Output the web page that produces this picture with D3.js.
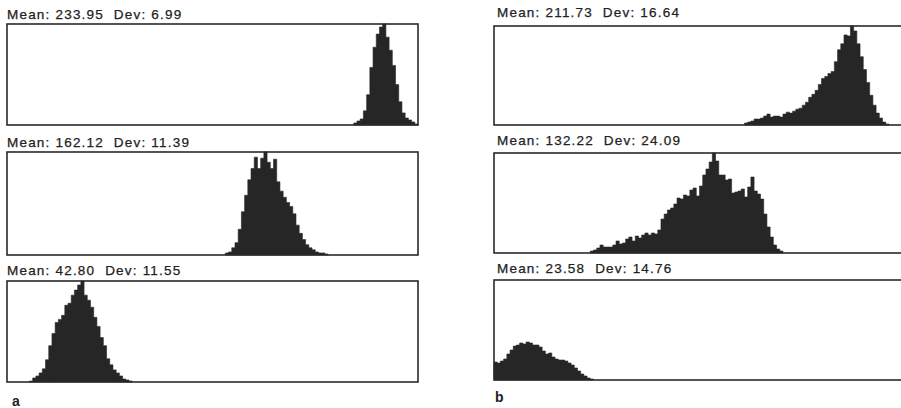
<!DOCTYPE html>
<html>
<head>
<meta charset="utf-8">
<script src="https://cdn.jsdelivr.net/npm/d3@7"></script>
<style>
  html, body { margin: 0; padding: 0; background: #fff; }
  svg { display: block; }
</style>
</head>
<body>
<svg id="chart" width="901" height="408"></svg>
<script>
// ---- data (gray level histograms, bins of 2 levels, relative counts in % of panel maximum) ----
const panelIds = ["a1", "a2", "a3", "b1", "b2", "b3"];
const means = ["233.95", "162.12", "42.80", "211.73", "132.22", "23.58"];
const devs  = ["6.99", "11.39", "11.55", "16.64", "24.09", "14.76"];
const binStarts = [216, 136, 14, 156, 60, 0];

const countsA1 = [2,4,6,14,30,57,77,90,97,100,87,74,59,40,23,12,7,5,3,1];
const countsA2 = [2,3,7,12,25,42,58,73,84,95,84,94,100,90,84,93,71,62,56,51,47,40,29,21,15,10,7,5,3,2,2,1];
const countsA3 = [1,4,6,9,13,22,36,48,59,62,66,76,78,86,91,96,100,86,81,74,64,55,44,36,23,17,12,9,6,3,2,1];
const countsB1 = [2,3,4,6,6,7,9,11,8,9,9,8,11,13,12,14,16,17,20,23,28,31,35,41,47,49,52,54,64,76,82,91,90,100,95,82,69,56,43,30,20,12,7,3,1];
const countsB2 = [2,3,5,8,6,6,6,8,12,9,10,14,16,12,17,15,18,20,18,20,19,23,34,39,43,45,49,55,54,58,57,63,65,57,67,78,84,91,100,92,78,78,73,74,60,61,62,64,56,66,76,62,59,54,39,26,16,8,4,2];
const countsB3 = [18,17,19,21,26,30,34,35,37,36,38,37,35,35,33,29,26,27,23,21,20,20,19,17,15,12,9,6,4,2,1];
const allCounts = [countsA1, countsA2, countsA3, countsB1, countsB2, countsB3];

const binWidth = 2;
const grayDomain = [0, 256];
const countDomain = [0, 100];
const figureLabels = ["a", "b"];

// ---- layout ----
const boxes = [
  {x0: 7,   x1: 418, y0: 24,  y1: 125, tx: 7,   ty: 19},
  {x0: 7,   x1: 418, y0: 152, y1: 255, tx: 7,   ty: 147},
  {x0: 7,   x1: 418, y0: 281, y1: 382, tx: 7,   ty: 275},
  {x0: 494, x1: 905, y0: 26,  y1: 125, tx: 497, ty: 17},
  {x0: 494, x1: 905, y0: 153, y1: 253, tx: 497, ty: 145},
  {x0: 494, x1: 905, y0: 280, y1: 380, tx: 497, ty: 273}
];

const svg = d3.select("#chart");
svg.append("rect").attr("width", 901).attr("height", 408).attr("fill", "#fff");

panelIds.forEach((id, i) => {
  const b = boxes[i];
  const x = d3.scaleLinear().domain(grayDomain).range([b.x0, b.x1]);
  const y = d3.scaleLinear().domain(countDomain).range([b.y1, b.y0]);
  const start = binStarts[i];
  const pts = allCounts[i].map((v, k) => ({g: start + k * binWidth, v}));
  pts.push({g: start + allCounts[i].length * binWidth, v: 0});
  const g = svg.append("g").attr("id", "panel-" + id);

  const area = d3.area()
    .x(d => x(d.g))
    .y0(y(0))
    .y1(d => y(d.v))
    .curve(d3.curveStepAfter);

  g.append("path")
    .datum(pts)
    .attr("d", area)
    .attr("fill", "#262626")
    .attr("stroke", "#262626")
    .attr("stroke-width", 0.6);

  g.append("rect")
    .attr("x", b.x0).attr("y", b.y0)
    .attr("width", b.x1 - b.x0).attr("height", b.y1 - b.y0)
    .attr("fill", "none")
    .attr("stroke", "#2a2a2a")
    .attr("stroke-width", 1.6);

  g.append("text")
    .attr("x", b.tx).attr("y", b.ty)
    .style("white-space", "pre")
    .attr("font-family", "'Liberation Sans', Arial, Helvetica, sans-serif")
    .attr("font-size", 13.5)
    .attr("letter-spacing", 1.2)
    .attr("fill", "#222")
    .attr("stroke", "#222")
    .attr("stroke-width", 0.25)
    .text(`Mean: ${means[i]}  Dev: ${devs[i]}`);
});

svg.append("text").attr("x", 12).attr("y", 406)
  .attr("font-family", "'Liberation Sans', Arial, sans-serif")
  .attr("font-size", 14).attr("font-weight", "bold").attr("fill", "#222")
  .text(figureLabels[0]);
svg.append("text").attr("x", 495).attr("y", 402)
  .attr("font-family", "'Liberation Sans', Arial, sans-serif")
  .attr("font-size", 14).attr("font-weight", "bold").attr("fill", "#222")
  .text(figureLabels[1]);
</script>
</body>
</html>
